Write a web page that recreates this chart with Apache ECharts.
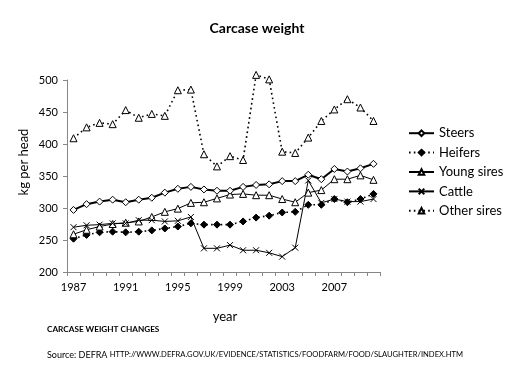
<!DOCTYPE html>
<html>
<head>
<meta charset="utf-8">
<script src="https://cdn.jsdelivr.net/npm/echarts@6/dist/echarts.min.js"></script>
<style>
html,body{margin:0;padding:0;background:#fff;}
#main{width:519px;height:382px;}
</style>
</head>
<body>
<div id="main"></div>
<script>
var years = ['1987','1988','1989','1990','1991','1992','1993','1994','1995','1996','1997','1998','1999','2000','2001','2002','2003','2004','2005','2006','2007','2008','2009','2010'];
var steers = [297, 306, 310, 313, 309, 313, 316, 324, 330, 333, 329, 327, 327, 333, 336, 337, 342, 342, 352, 345, 361, 357, 362, 369];
var heifers = [252, 258, 262, 263, 262, 263, 265, 268, 271, 276, 274, 274, 274, 279, 285, 288, 293, 294, 305, 305, 314, 309, 314, 322];
var youngSires = [259, 266, 271, 275, 277, 279, 286, 294, 299, 308, 309, 315, 321, 322, 320, 320, 314, 309, 324, 328, 345, 345, 351, 344];
var cattle = [270, 273, 274, 276, 276, 281, 281, 279, 280, 286, 237, 237, 242, 234, 234, 230, 224, 238, 343, 308, 314, 310, 310, 314];
var otherSires = [409, 426, 433, 431, 453, 441, 447, 444, 484, 485, 384, 365, 381, 375, 508, 501, 388, 386, 410, 436, 454, 470, 457, 436];
var yTicks = {min: 200, max: 500, step: 50};

var FONT = 'Lato';
var chart = echarts.init(document.getElementById('main'), null, {renderer: 'canvas'});

function mk(name, data, opts) {
  return Object.assign({
    name: name,
    type: 'line',
    data: data,
    symbolSize: 6,
    clip: false,
    animation: false,
    color: '#000',
    lineStyle: {color: '#000', width: 1},
    itemStyle: {color: '#fff', borderColor: '#000', borderWidth: 1},
    emphasis: {disabled: true}
  }, opts);
}

var option = {
  animation: false,
  textStyle: {fontFamily: FONT, color: '#000'},
  title: {
    text: 'Carcase weight',
    left: 252, top: 16, textAlign: 'center',
    textStyle: {fontFamily: FONT, fontSize: 14, fontWeight: 'bold', color: '#000'}
  },
  grid: {left: 67, right: 139, top: 80, bottom: 110, containLabel: false},
  legend: {
    orient: 'vertical',
    left: 403, top: 120.5,
    itemWidth: 25, itemHeight: 7, itemGap: 4,
    textStyle: {fontFamily: FONT, fontSize: 13, color: '#000', lineHeight: 15.4},
    data: ['Steers', 'Heifers', 'Young sires', 'Cattle', 'Other sires']
  },
  xAxis: {
    type: 'category',
    data: years,
    boundaryGap: true,
    axisLine: {lineStyle: {color: '#868686', width: 1}},
    axisTick: {show: true, interval: 0, length: 4, lineStyle: {color: '#868686'}},
    axisLabel: {interval: 3, color: '#000', fontFamily: FONT, fontSize: 11, margin: 10},
    splitLine: {show: false}
  },
  yAxis: {
    type: 'value',
    min: yTicks.min, max: yTicks.max, interval: yTicks.step,
    axisLine: {show: true, lineStyle: {color: '#868686', width: 1}},
    axisTick: {show: true, length: 4, lineStyle: {color: '#868686'}},
    axisLabel: {color: '#000', fontFamily: FONT, fontSize: 11, margin: 9},
    splitLine: {show: false}
  },
  graphic: [
    {type: 'text', x: 24, y: 162, rotation: Math.PI / 2,
     style: {text: 'kg per head', fontFamily: FONT, fontSize: 13, fill: '#000', textAlign: 'center', textVerticalAlign: 'middle'}},
    {type: 'text', x: 225, y: 317,
     style: {text: 'year', fontFamily: FONT, fontSize: 13, fill: '#000', textAlign: 'center', textVerticalAlign: 'middle'}},
    {type: 'text', x: 47, y: 329,
     style: {text: 'CARCASE WEIGHT CHANGES', fontFamily: FONT, fontSize: 8.2, fontWeight: 'bold', fill: '#000', textAlign: 'left', textVerticalAlign: 'middle'}},
    {type: 'text', x: 47, y: 355,
     style: {
       text: '{a|Source: DEFRA }{b|HTTP://WWW.DEFRA.GOV.UK/EVIDENCE/STATISTICS/FOODFARM/FOOD/SLAUGHTER/INDEX.HTM}',
       textAlign: 'left', textVerticalAlign: 'middle',
       rich: {
         a: {fontFamily: FONT, fontSize: 9, fill: '#000', color: '#000'},
         b: {fontFamily: FONT, fontSize: 7.6, fill: '#000', color: '#000'}
       }
     }}
  ],
  series: [
    mk('Steers', steers, {symbol: 'diamond', symbolSize: 7, lineStyle: {color: '#000', width: 2}, z: 5}),
    mk('Heifers', heifers, {symbol: 'diamond', symbolSize: 7, lineStyle: {color: '#000', width: 1.6, type: [1.6, 3.2]}, itemStyle: {color: '#000', borderColor: '#000', borderWidth: 1}}),
    mk('Young sires', youngSires, {symbol: 'triangle', symbolSize: 7}),
    mk('Cattle', cattle, {symbol: 'path://M0,0L10,10M10,0L0,10', symbolSize: 6, itemStyle: {color: 'none', borderColor: '#000', borderWidth: 1}}),
    mk('Other sires', otherSires, {symbol: 'triangle', symbolSize: 7, lineStyle: {color: '#000', width: 1.6, type: [1.6, 3.2]}})
  ]
};
chart.setOption(option);
</script>
</body>
</html>
